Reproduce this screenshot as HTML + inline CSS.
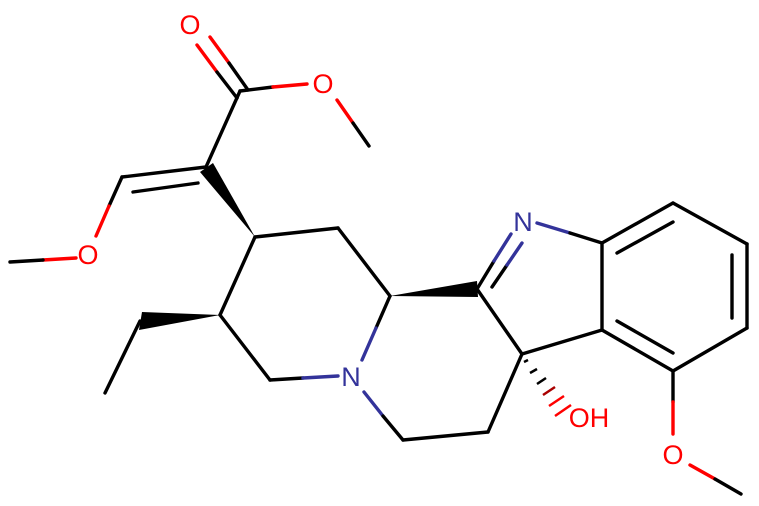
<!DOCTYPE html>
<html><head><meta charset="utf-8"><style>body{margin:0;background:#fff}svg{display:block}</style></head>
<body>
<svg width="759" height="506" viewBox="0 0 759 506" xmlns="http://www.w3.org/2000/svg">
<g stroke="#000" stroke-width="3.4" fill="none" stroke-linecap="round">
<!-- carbonyl -->
<line x1="197" y1="45" x2="217" y2="72" stroke="#f00"/><line x1="217" y1="72" x2="237" y2="98"/>
<line x1="210" y1="37" x2="229" y2="63" stroke="#f00"/><line x1="229" y1="63" x2="248" y2="90"/>
<line x1="240" y1="91" x2="273" y2="87"/><line x1="273" y1="87" x2="307" y2="84" stroke="#f00"/>
<line x1="337" y1="100" x2="353" y2="123" stroke="#f00"/><line x1="353" y1="123" x2="369" y2="146"/>
<line x1="240" y1="91" x2="206" y2="167"/>
<line x1="206" y1="167" x2="122" y2="177"/>
<line x1="133" y1="192" x2="198" y2="183"/>
<line x1="122" y1="177" x2="109" y2="206"/><line x1="109" y1="206" x2="96" y2="236" stroke="#f00"/>
<line x1="76" y1="258" x2="43" y2="260" stroke="#f00"/><line x1="43" y1="260" x2="10" y2="262"/>
<!-- ring -->
<line x1="255" y1="237" x2="338" y2="228"/><line x1="338" y1="228" x2="390" y2="296"/>
<line x1="255" y1="237" x2="220" y2="315"/>
<line x1="140" y1="321" x2="105" y2="393"/>
<line x1="220" y1="315" x2="270" y2="380"/><line x1="270" y1="380" x2="303" y2="378"/>
<line x1="303" y1="378" x2="338" y2="376" stroke="#33339a"/>
<line x1="390" y1="296" x2="376" y2="328"/><line x1="376" y1="328" x2="362" y2="360" stroke="#33339a"/>
<line x1="364" y1="392" x2="383" y2="416" stroke="#33339a"/><line x1="383" y1="416" x2="403" y2="440"/>
<line x1="403" y1="440" x2="488" y2="432"/><line x1="488" y1="432" x2="522" y2="354"/>
<line x1="522" y1="354" x2="477" y2="289"/>
<line x1="477" y1="289" x2="494" y2="261"/><line x1="494" y1="261" x2="511" y2="234" stroke="#33339a"/>
<line x1="492" y1="287" x2="507" y2="265"/><line x1="507" y1="265" x2="522" y2="243" stroke="#33339a"/>
<line x1="537" y1="223" x2="570" y2="233" stroke="#33339a"/><line x1="570" y1="233" x2="602" y2="243"/>
<line x1="602" y1="243" x2="673" y2="203"/><line x1="673" y1="203" x2="747" y2="244"/>
<line x1="747" y1="244" x2="747" y2="328"/><line x1="747" y1="328" x2="673" y2="371"/>
<line x1="673" y1="371" x2="602" y2="330"/><line x1="602" y1="330" x2="602" y2="243"/>
<line x1="617" y1="253" x2="673" y2="222"/><line x1="732" y1="255" x2="732" y2="318"/><line x1="617" y1="321" x2="673" y2="353"/>
<line x1="602" y1="330" x2="522" y2="354"/>
<line x1="673" y1="371" x2="673" y2="402"/><line x1="673" y1="402" x2="673" y2="434" stroke="#f00"/>
<line x1="690" y1="465" x2="715" y2="479" stroke="#f00"/><line x1="715" y1="479" x2="741" y2="494"/>
</g>
<!-- wedges -->
<polygon points="255,237 200,172 213,163" fill="#000"/>
<polygon points="220,315 142,312 139,330" fill="#000"/>
<polygon points="390,296 477,281 478,297" fill="#000"/>
<!-- hash -->
<g stroke="#000" stroke-width="2.5">
<line x1="524" y1="362" x2="528" y2="360"/>
<line x1="530" y1="373" x2="537" y2="369"/>
<line x1="537" y1="384" x2="546" y2="378"/>
<line x1="543" y1="395" x2="555" y2="387" stroke="#a00"/>
<line x1="549" y1="406" x2="564" y2="396" stroke="#f00"/>
<line x1="555" y1="416" x2="571" y2="405" stroke="#f00"/>
</g>
<g font-family="Liberation Sans, sans-serif" font-size="27" text-anchor="middle">
<text x="190" y="34" fill="#f00">O</text>
<text x="323" y="93" fill="#f00">O</text>
<text x="88" y="264" fill="#f00">O</text>
<text x="523" y="231" fill="#33339a">N</text>
<text x="351" y="386" fill="#33339a">N</text>
<text x="589" y="427" fill="#f00">OH</text>
<text x="673" y="464" fill="#f00">O</text>
</g>
</svg>
</body></html>
